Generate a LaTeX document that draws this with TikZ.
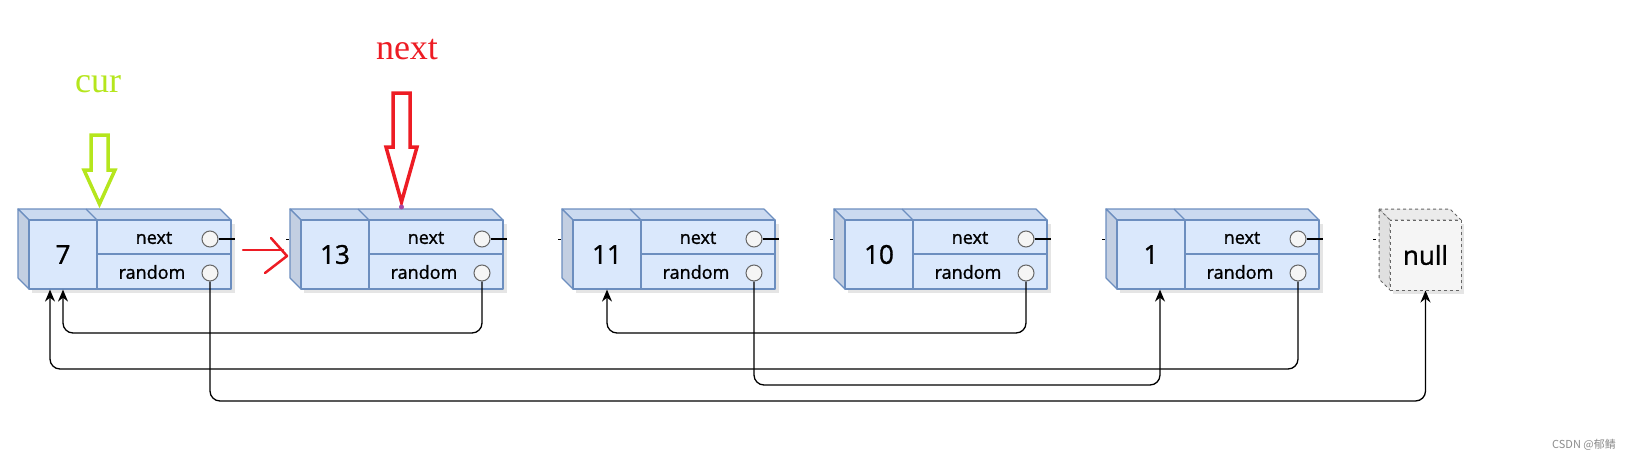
\documentclass[tikz,border=0pt]{standalone}
\usepackage{fontspec}
\setmainfont{Liberation Serif}
\newfontfamily\cellfont[FakeBold=1.2]{Open Sans}
\newfontfamily\cjkfont{Noto Sans CJK SC}
\usepackage{tikz}
\usetikzlibrary{arrows.meta}
\usetikzlibrary{calc}
\usetikzlibrary{positioning}

\definecolor{cellfill}{HTML}{DAE8FC}
\definecolor{celldraw}{HTML}{6C8EBF}
\definecolor{celltop}{HTML}{CBDAF0}
\definecolor{cellside}{HTML}{C3CFE2}
\definecolor{nullfill}{HTML}{F5F5F5}
\definecolor{nulldraw}{HTML}{666666}
\definecolor{curgreen}{HTML}{B5E61D}
\definecolor{nextred}{HTML}{ED1C24}
\definecolor{dotpurple}{HTML}{A349A4}

\tikzset{
  face/.style={fill=cellfill, draw=celldraw, line width=1.2pt, line join=round},
  valcell/.style={face, minimum width=68pt, minimum height=69pt, inner sep=0pt,
    font=\cellfont\fontsize{26}{26}\selectfont},
  fieldtxt/.style={inner sep=0pt, font=\cellfont\fontsize{18}{18}\selectfont},
  knob/.style={circle, draw=nulldraw, fill=nullfill, line width=1pt,
    minimum size=16pt, inner sep=0pt},
  nullface/.style={fill=nullfill, draw=nulldraw, dashed, line width=1pt},
  ptr/.style={draw=black, line width=1.3pt, rounded corners=10pt,
    -{Stealth[length=12pt, width=10pt]}},
  hollow/.style={line width=3.5pt, line join=miter},
  pointer/.style={inner sep=0pt, font=\fontsize{36}{36}\selectfont}
}

\begin{document}
\begin{tikzpicture}[x=1pt, y=-1pt]
  \useasboundingbox (0,0) rectangle (1633,460);

  \foreach \v [count=\i] in {7,13,11,10,1} {
    \pgfmathsetmacro{\xo}{29+272*(\i-1)}
    \fill[black!10] (\xo+3,224) rectangle (\xo+206,293);
    \draw[face, fill=celltop] (\xo-11,209) -- (\xo+191,209) -- (\xo+202,220) -- (\xo,220) -- cycle;
    \draw[face, fill=cellside] (\xo-11,209) -- (\xo,220) -- (\xo,289) -- (\xo-11,278) -- cycle;
    \draw[face] (\xo+57,209) -- (\xo+68,220);
    \node[valcell] (v\i) at (\xo+34,254.5) {\v};
    \draw[face] (\xo+68,220) rectangle (\xo+202,254);
    \draw[face] (\xo+68,254) rectangle (\xo+202,289);
    \node[fieldtxt] at (\xo+125,238) {next};
    \node[fieldtxt] at (\xo+123,272) {random};
    \node[knob] (n\i) at (\xo+181,239) {};
    \node[knob] (r\i) at (\xo+181,273) {};
    \draw[line width=1.2pt] (n\i.east) -- (\xo+206,239);
    \ifnum\i>1 \draw[line width=1pt] (\xo-15,239) -- (\xo-12,239); \fi
  }

  \fill[black!10] (1393,224) rectangle (1464,294);
  \draw[nullface, fill=black!8] (1379,209) -- (1450,209) -- (1461,220) -- (1390,220) -- cycle;
  \draw[nullface, fill=black!12] (1379,209) -- (1390,220) -- (1390,290) -- (1379,279) -- cycle;
  \node[nullface, minimum width=71pt, minimum height=70pt, inner sep=0pt,
    font=\cellfont\fontsize{26}{26}\selectfont] (vn) at (1425.5,255) {null};
  \draw[line width=1pt] (1373,239) -- (1376,239);

  \coordinate (laneA) at (0,333);
  \coordinate (laneB) at (0,369);
  \coordinate (laneC) at (0,385);
  \coordinate (laneD) at (0,401);
  \coordinate (in7) at ([xshift=-13pt]v1.south);
  \coordinate (in1) at ([xshift=9pt]v5.south);

  \draw[ptr] (r2.south) |- (v1.south |- laneA) -- (v1.south);
  \draw[ptr] (r4.south) |- (v3.south |- laneA) -- (v3.south);
  \draw[ptr] (r5.south) |- (in7 |- laneB) -- (in7);
  \draw[ptr] (r3.south) |- (in1 |- laneC) -- (in1);
  \draw[ptr] (r1.south) |- (vn.south |- laneD) -- (vn.south);

  \node[pointer, text=curgreen] (cur) at (98,84) {cur};
  \draw[hollow, curgreen] (91,135) -- (108,135) -- (108,170) -- (115,170) -- (99.5,204)
    -- (84,170) -- (91,170) -- cycle;
  \node[pointer, text=nextred] (nxt) at (407,50) {next};
  \draw[hollow, nextred] (393,93) -- (410,93) -- (410,147) -- (417,147) -- (401.5,202)
    -- (386,147) -- (393,147) -- cycle;
  \fill[dotpurple] (401.5,207) circle (2.5);

  \draw[nextred, line width=2.5pt, line cap=round, line join=round] (243,250) -- (283,250);
  \draw[nextred, line width=2.5pt, line cap=round, line join=round]
    (271,238) -- (287,256) -- (265,273);

  \node[text=black!45, font=\cjkfont\fontsize{11}{11}\selectfont] (mark) at (1584,445) {CSDN @郁鲭};
\end{tikzpicture}
\end{document}
